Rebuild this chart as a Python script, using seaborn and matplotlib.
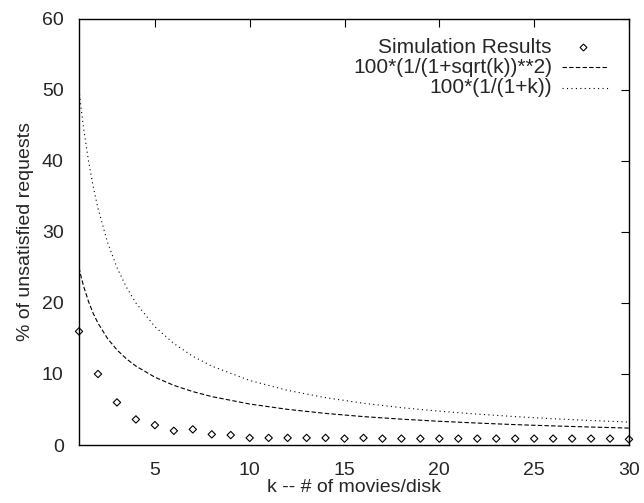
import matplotlib
matplotlib.use("Agg")
import matplotlib.pyplot as plt
import numpy as np
import pandas as pd
import seaborn as sns

# simulation results, one point per k
k_sim = list(range(1, 31))
sim_pct = [16, 10, 6, 3.6, 2.8, 2.0, 2.2, 1.5, 1.4, 1.0,
           1.0, 1.0, 1.0, 1.0, 0.9, 1.0, 0.9, 0.9, 0.9, 0.9,
           0.9, 0.9, 0.9, 0.9, 0.9, 0.9, 0.9, 0.9, 0.9, 0.8]

# analytic curves
k_curve = [1, 1.1, 1.25, 1.5, 1.75, 2, 2.5, 3, 3.5, 4, 5, 6, 7, 8, 10, 12, 14,
           16, 18, 20, 22, 24, 26, 28, 30]
sqrt_curve = [25, 23.8, 22.29, 20.20, 18.53, 17.16, 15.01, 13.40, 12.13, 11.11,
              9.55, 8.40, 7.52, 6.82, 5.77, 5.02, 4.45, 4.00, 3.64, 3.34, 3.09,
              2.87, 2.69, 2.53, 2.38]
inv_curve = [50, 47.62, 44.44, 40, 36.36, 33.33, 28.57, 25, 22.22, 20, 16.67,
             14.29, 12.5, 11.11, 9.09, 7.69, 6.67, 5.88, 5.26, 4.76, 4.35, 4.0,
             3.70, 3.45, 3.23]

labels = ["Simulation Results", "100*(1/(1+sqrt(k))**2)", "100*(1/(1+k))"]

sim = pd.DataFrame({"k": k_sim, "pct": sim_pct})
curves = pd.DataFrame({"k": k_curve, "sqrt": sqrt_curve, "inv": inv_curve})

sns.set_style("white")
plt.rcParams['font.family'] = ['Liberation Sans', 'DejaVu Sans']
plt.rcParams['font.size'] = 14

fig = plt.figure(figsize=(6.44, 5.03), dpi=100)
ax = fig.add_axes([0.1227, 0.1153, 0.854, 0.847])

dash = (0, (4, 2))
dots = (0, (1, 3))
sns.scatterplot(data=sim, x="k", y="pct", ax=ax, marker="D", s=14,
                facecolor="none", edgecolor="black", linewidth=0.8,
                clip_on=False, zorder=3, legend=False)
sns.lineplot(data=curves, x="k", y="sqrt", ax=ax, color="black", lw=0.8,
             linestyle=dash, legend=False)
sns.lineplot(data=curves, x="k", y="inv", ax=ax, color="black", lw=0.8,
             linestyle=dots, legend=False)

ax.set_xlim(1, 30)
ax.set_ylim(0, 60)
ax.set_xticks([5, 10, 15, 20, 25, 30])
ax.set_yticks([0, 10, 20, 30, 40, 50, 60])
ax.tick_params(direction="in", length=6, width=0.8, top=True, right=True,
               labeltop=False, labelright=False, labelsize=14, color="black")
ax.tick_params(axis="y", pad=11)
ax.tick_params(axis="x", pad=12)
for s in ax.spines.values():
    s.set_color("black")
    s.set_linewidth(1.0)
ax.set_xlabel("k -- # of movies/disk", fontsize=14, labelpad=0)
ax.set_ylabel("% of unsatisfied requests", fontsize=14, labelpad=6)

# gnuplot style key: right aligned text, sample on the right
baselines = [0.920, 0.873, 0.826]
marks = [0.934, 0.887, 0.838]
for lab, y in zip(labels, baselines):
    ax.text(0.86, y, lab, transform=ax.transAxes, ha="right", va="baseline",
            fontsize=15)
ax.plot([0.916], [marks[0]], transform=ax.transAxes, marker="D", ms=3.5,
        mfc="none", mec="black", mew=0.8, ls="none")
ax.plot([0.878, 0.962], [marks[1]] * 2, transform=ax.transAxes, color="black",
        lw=0.8, linestyle=dash)
ax.plot([0.878, 0.962], [marks[2]] * 2, transform=ax.transAxes, color="black",
        lw=0.8, linestyle=dots)

fig.savefig("out.png", dpi=100)
